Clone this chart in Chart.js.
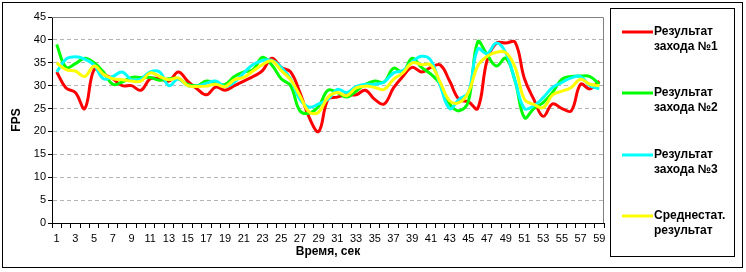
<!DOCTYPE html>
<html>
<head>
<meta charset="utf-8">
<script src="https://cdn.jsdelivr.net/npm/chart.js@4.4.0/dist/chart.umd.min.js"></script>
<style>
body { margin: 0; background: #fff; }
</style>
</head>
<body>
<canvas id="fpsChart" width="746" height="272"></canvas>
<script>
// seconds 1..59
const seconds = [1, 2, 3, 4, 5, 6, 7, 8, 9, 10, 11, 12, 13, 14, 15, 16, 17, 18, 19, 20,
  21, 22, 23, 24, 25, 26, 27, 28, 29, 30, 31, 32, 33, 34, 35, 36, 37, 38, 39, 40,
  41, 42, 43, 44, 45, 46, 47, 48, 49, 50, 51, 52, 53, 54, 55, 56, 57, 58, 59];

const run1 = [33, 29.5, 28.5, 25, 33.5, 32.5, 31.5, 30, 30, 29, 31.5, 31.5, 31, 33, 31, 29.3, 28, 29.7, 29, 30,
  31, 32, 33.3, 36, 34, 33, 28.5, 23, 20, 27, 27.5, 28, 28, 29, 27, 26, 29.5, 32, 34, 33,
  34, 34.5, 31, 27, 26.5, 25, 35.5, 39.3, 39.3, 39.5, 31.5, 27, 23.3, 26, 25, 24.5, 30.3, 29.3, 31];

const run2 = [39, 34, 34.8, 36, 35, 33, 30.3, 30.8, 31.8, 31.8, 31.8, 31.2, 31.5, 31.5, 30.3, 30, 31, 30.5, 30.3, 32,
  33, 33.5, 36.2, 34.5, 31.5, 30, 24.5, 24, 25.5, 29, 28.5, 27.5, 28.8, 30.3, 31, 30.8, 33.8, 33, 36, 34,
  32.5, 30.3, 26, 24.5, 26.5, 39.6, 36.8, 34.3, 36, 31, 23, 25, 26.3, 28.5, 31.4, 32, 32.1, 32, 30.3];

const run3 = [33, 35.8, 36.3, 35.8, 34.5, 31.5, 32, 33, 31.3, 31.5, 33, 33, 30, 31.5, 30, 29.9, 30.5, 31, 29.8, 30.8,
  32.8, 34.6, 35.5, 35.5, 34, 31.5, 27, 25.3, 26, 27, 29.2, 28.5, 29.8, 30.3, 30.3, 30.8, 32.8, 33.3, 35.2, 36.4,
  35.5, 30, 25, 27, 28.5, 38, 37, 39.3, 37.2, 31, 25, 25.6, 27.4, 29.6, 30.7, 31.7, 32, 30, 29.3];

const average = [35, 33.5, 33.2, 32, 34.3, 32.5, 31.5, 31.3, 31, 31, 32.8, 32, 31.3, 31.7, 30, 29.8, 29.9, 30.3, 29.8, 31.3,
  31.8, 33.2, 34.6, 35.4, 33.3, 31.3, 27.8, 24.2, 24.2, 27.5, 28.5, 27.8, 29.5, 29.9, 29.6, 29.2, 31.4, 32.8, 35, 34.6,
  34.5, 30.7, 26.7, 26.3, 28.5, 34.3, 36.4, 37.3, 37.2, 34, 27, 25.9, 25.2, 28, 28.8, 29.6, 31.4, 30.3, 30];

const seriesNames = [['Результат', 'захода №1'], ['Результат', 'захода №2'], ['Результат', 'захода №3'], ['Среднестат.', 'результат']];
const seriesColors = ['#ff0000', '#00ff00', '#00ffff', '#ffff00'];

const FONT = 'Arial, "Liberation Sans", sans-serif';

const frame = {
  id: 'frame',
  afterDraw(chart) {
    const c = chart.ctx;
    const a = chart.chartArea;
    c.save();
    // plot area border (top and right)
    c.strokeStyle = '#808080';
    c.lineWidth = 1;
    c.beginPath();
    c.moveTo(a.left, a.top + 0.5);
    c.lineTo(a.right - 0.5, a.top + 0.5);
    c.lineTo(a.right - 0.5, a.bottom);
    c.stroke();

    // axis titles
    c.fillStyle = '#000';
    c.font = 'bold 12px ' + FONT;
    c.textAlign = 'center';
    c.textBaseline = 'middle';
    c.fillText('Время, сек', (a.left + a.right) / 2, 252);
    c.save();
    c.translate(17, (a.top + a.bottom) / 2);
    c.rotate(-Math.PI / 2);
    c.fillText('FPS', 0, 0);
    c.restore();

    // legend
    c.strokeStyle = '#000';
    c.strokeRect(610.5, 8.5, 124, 248);
    const rowY = [32, 93, 155, 216];
    c.textAlign = 'left';
    seriesNames.forEach((lines, i) => {
      c.strokeStyle = seriesColors[i];
      c.lineWidth = 3;
      c.beginPath();
      c.moveTo(622, rowY[i]);
      c.lineTo(653, rowY[i]);
      c.stroke();
      c.fillStyle = '#000';
      c.fillText(lines[0], 654, rowY[i]);
      c.fillText(lines[1], 654, rowY[i] + 14.5);
    });

    // outer border
    c.strokeStyle = '#000';
    c.lineWidth = 1;
    c.strokeRect(2.5, 2.5, 740, 265);
    c.restore();
  }
};

const ctx = document.getElementById('fpsChart').getContext('2d');
const fpsChart = new Chart(ctx, {
  type: 'line',
  data: {
    labels: seconds,
    datasets: [run1, run2, run3, average].map((values, i) => ({
      label: seriesNames[i].join(' '),
      data: values,
      borderColor: seriesColors[i],
      backgroundColor: seriesColors[i],
      borderWidth: 3,
      pointRadius: 0,
      tension: 0.4,
      fill: false,
      order: 3 - i
    }))
  },
  options: {
    responsive: false,
    animation: false,
    layout: { padding: { top: 17, right: 142, left: 0, bottom: 0 } },
    plugins: {
      legend: { display: false },
      tooltip: { enabled: false }
    },
    scales: {
      x: {
        offset: true,
        afterFit(scale) { scale.height = 49; },
        grid: {
          offset: true,
          drawOnChartArea: false,
          drawTicks: true,
          tickLength: 5,
          tickColor: '#000'
        },
        border: { color: '#000', width: 1 },
        ticks: {
          autoSkip: false,
          maxRotation: 0,
          padding: 4,
          color: '#000',
          font: { family: FONT, size: 11 },
          callback(value, index) { return index % 2 === 0 ? this.getLabelForValue(value) : ''; }
        }
      },
      y: {
        min: 0,
        max: 45,
        afterFit(scale) { scale.width = 52; },
        grid: {
          color: '#b4b4b4',
          drawTicks: true,
          tickLength: 4,
          tickColor: '#000'
        },
        border: { color: '#000', width: 1, dash: [4, 3] },
        ticks: {
          stepSize: 5,
          padding: 2,
          color: '#000',
          font: { family: FONT, size: 11 }
        }
      }
    }
  },
  plugins: [frame]
});
</script>
</body>
</html>
